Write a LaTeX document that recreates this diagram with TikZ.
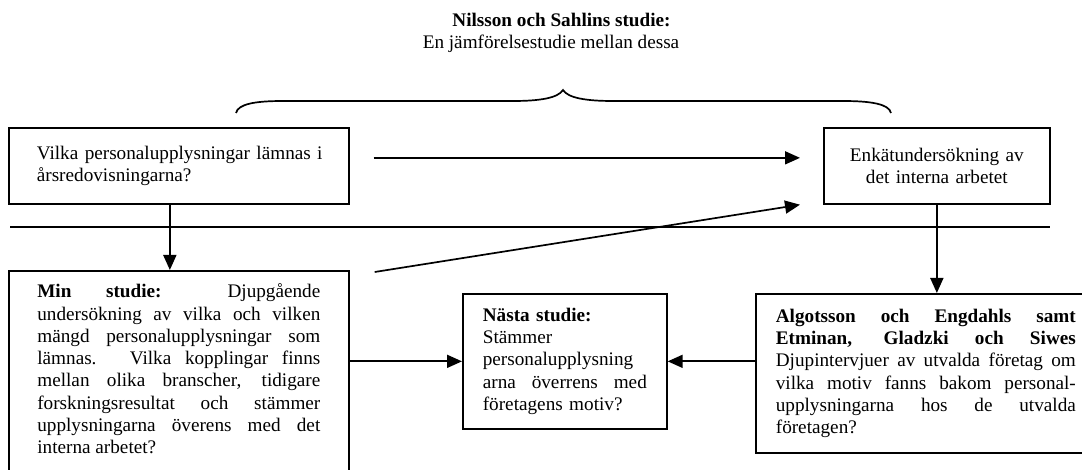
\documentclass[tikz,border=0pt]{standalone}
\usepackage{fontspec}
\setmainfont{Liberation Serif}
\usetikzlibrary{arrows.meta}
\newcommand\jline[1]{\noindent\hbox to\hsize{\spaceskip=.25em plus 1fil\relax #1}\par}
\newcommand\lline[1]{\noindent\hbox to\hsize{#1\hfil}\par}
\begin{document}
\begin{tikzpicture}[x=1pt,y=-1pt,
  font=\fontsize{19.2pt}{22.3pt}\selectfont,
  box/.style={draw,line width=1.7pt,inner sep=0pt,anchor=north west},
  conn/.style={line width=1.7pt,-{Triangle[length=15pt,width=13pt]}},
  plain/.style={line width=1.7pt}]
\clip (0,0) rectangle (1082,470);

% title
\node[anchor=north,inner sep=0pt,align=center] (title) at (551,13)
  {\hspace*{21pt}\textbf{Nilsson och Sahlins studie:}\\En jämförelsestudie mellan dessa};

% brace
\draw[plain] (236,113) .. controls (238,104) and (255,101) .. (283,101)
  -- (513,101) .. controls (540,101) and (558,98) .. (563,90)
  .. controls (568,98) and (586,101) .. (613,101)
  -- (843,101) .. controls (871,101) and (889,104) .. (891,113);

% boxes
\node[box,minimum width=340pt,minimum height=76pt,text width=284pt,align=left] (tl) at (8,127)
  {\lline{Vilka personalupplysningar lämnas i}
   \lline{årsredovisningarna?}};
\node[box,minimum width=226pt,minimum height=76pt,text width=210pt,align=center] (tr) at (823,127)
  {Enkätundersökning av\\det interna arbetet};
\node[box,inner xsep=28.5pt,inner ysep=13pt] (bl) at (8,270)
  {\parbox[t][230pt][t]{283pt}{%
   \jline{\textbf{Min} \textbf{studie:} Djupgående}
   \jline{undersökning av vilka och vilken}
   \jline{mängd personalupplysningar som}
   \jline{lämnas. Vilka kopplingar finns}
   \jline{mellan olika branscher, tidigare}
   \jline{forskningsresultat och stämmer}
   \jline{upplysningarna överens med det}
   \lline{interna arbetet?}}};
\node[box,minimum width=204pt,minimum height=135pt,text width=164pt,align=left] (mid) at (462,293)
  {\lline{\textbf{Nästa studie:}}
   \lline{Stämmer}
   \lline{personalupplysning}
   \jline{arna överrens med}
   \lline{företagens motiv?}};
\node[box,minimum width=340pt,minimum height=159pt,text width=300pt,align=left] (br) at (755,293)
  {\jline{\textbf{Algotsson} \textbf{och} \textbf{Engdahls} \textbf{samt}}
   \jline{\textbf{Etminan,} \textbf{Gladzki} \textbf{och} \textbf{Siwes}}
   \jline{Djupintervjuer av utvalda företag om}
   \jline{vilka motiv fanns bakom personal-}
   \jline{upplysningarna hos de utvalda}
   \lline{företagen?}};

% separator line
\coordinate (hl) at (10,227);
\coordinate (hr) at (1050,227);
\draw[plain] (hl) -- (hr);

% connectors
\draw[conn,shorten <=24pt,shorten >=23pt] ([yshift=8pt]tl.east) -- ([yshift=8pt]tr.west);
\draw[conn] ([xshift=-9pt]tl.south) -- ([xshift=-9pt]bl.north);
\draw[conn] ([shift={(25pt,-2pt)}]bl.north east) -- ([xshift=-23pt]tr.south west);
\draw[conn] (tr.south) -- (tr.south |- br.north);
\draw[conn] (bl.east |- mid.west) -- (mid.west);
\draw[conn] (br.west |- mid.east) -- (mid.east);
\end{tikzpicture}
\end{document}
